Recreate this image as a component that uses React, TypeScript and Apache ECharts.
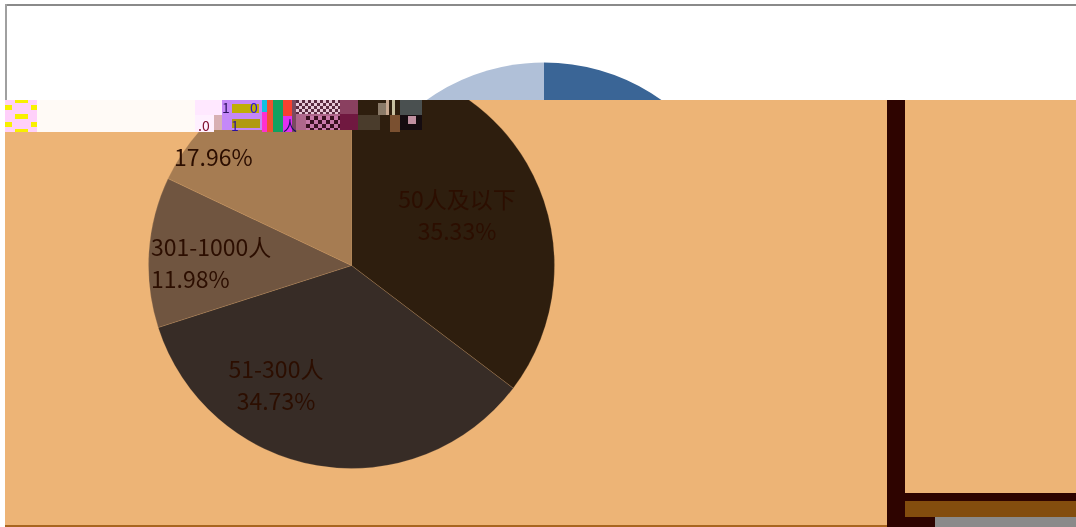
import React, { useEffect, useRef } from "react";
import * as echarts from "echarts";

const sizeGroups = ["50人及以下", "51-300人", "301-1000人", ""];
const sharePercent = [35.33, 34.73, 11.98, 17.96];
const mainColors = ["#2e1e0e", "#372c26", "#705540", "#a67c52"];
const upperColors = ["#3a6596", "#6f8fb8", "#8fa8c8", "#b0c0d8"];
const labelSpots = [
  { x: 457, y: 214, align: "center" },
  { x: 276, y: 384, align: "center" },
  { x: 151, y: 262, align: "left" },
  { x: 174, y: 156, align: "left" },
];
const ORANGE = "#edb476";
const DARK = "#2e0400";
const INK = "#2c0e00";

function box(x: number, y: number, w: number, h: number, fill: string, z = 20) {
  return { type: "rect", z, silent: true, shape: { x, y, width: w, height: h }, style: { fill } };
}
function frag(x: number, y: number, text: string, fill: string) {
  return {
    type: "text", z: 22, silent: true, x, y,
    style: { text, fill, font: '14px "Noto Sans CJK SC"', textVerticalAlign: "middle" },
  };
}

function checker(x0: number, x1: number, y0: number, y1: number, step: number, a: string, b: string) {
  const out: any[] = [];
  let r = 0;
  for (let y = y0; y < y1; y += step, r++) {
    let c = r % 2;
    for (let x = x0; x < x1; x += step, c++) {
      out.push(box(x, y, Math.min(step, x1 - x), Math.min(step, y1 - y), c % 2 ? a : b, 21));
    }
  }
  return out;
}

const glitch = [
  box(5, 100, 190, 32, "#fffaf6"),
  box(195, 100, 27, 15, "#ffe8ff"),
  box(195, 115, 19, 17, "#fff0ff"),
  box(214, 115, 14, 15, "#d8b0b4"),
  box(5, 100, 32, 32, "#ffd0fa"),
  box(15, 100, 13, 3, "#f8f000"),
  box(5, 105, 7, 5, "#f8f000"),
  box(31, 105, 6, 5, "#f8f000"),
  box(15, 114, 13, 5, "#f8f000"),
  box(5, 122, 7, 5, "#f8f000"),
  box(31, 122, 6, 5, "#f8f000"),
  box(15, 129, 13, 3, "#f8f000"),
  box(222, 100, 40, 30, "#c488f8"),
  box(232, 104, 27, 9, "#bfae06"),
  box(232, 119, 28, 9, "#b09a10"),
  box(262, 100, 5, 32, "#ff30d0"),
  box(262, 100, 5, 12, "#10c0e0"),
  box(267, 100, 6, 32, "#f05030"),
  box(273, 100, 10, 32, "#12a060"),
  box(283, 100, 9, 16, "#f84030"),
  box(283, 116, 9, 16, "#e030f0"),
  box(292, 100, 4, 32, "#7a4a60"),
  ...checker(296, 340, 100, 114, 3, "#e8c8d8", "#5a2a40"),
  box(296, 114, 44, 16, "#b0688c"),
  ...checker(306, 340, 116, 130, 4, "#c878a8", "#3a1020"),
  box(340, 100, 18, 14, "#8a4060"),
  box(340, 114, 18, 16, "#701840"),
  box(358, 100, 34, 32, "#2e1e0e"),
  box(358, 115, 22, 15, "#4a3c2c"),
  box(378, 103, 8, 12, "#8a7a68"),
  box(386, 100, 3, 15, "#c8a890"),
  box(392, 100, 3, 15, "#c8c0a0"),
  box(390, 115, 10, 17, "#7a5030"),
  box(400, 100, 22, 15, "#4a5050"),
  box(400, 115, 22, 15, "#150c10"),
  box(408, 116, 8, 8, "#c090a0"),
  frag(222, 107, "1", "#2a1060"),
  frag(250, 107, "0", "#2a10e0"),
  frag(198, 125, ".0", "#801030"),
  frag(231, 125, "1", "#2a10a0"),
  frag(283, 125, "人", "#101060"),
];

const frame = [
  box(887, 100, 18, 427, DARK),
  box(905, 493, 171, 8, DARK),
  box(905, 501, 171, 16, "#834d0e"),
  box(905, 517, 30, 10, DARK),
  box(935, 517, 141, 10, "#8a8a8a"),
  box(5, 525, 882, 2, "#a8651f"),
];

function pieSeries(cx: number, colors: string[], withLabels: boolean) {
  return {
    type: "pie",
    z: 5,
    silent: true,
    center: [cx, 265.5],
    radius: [0, 203],
    startAngle: 90,
    clockwise: true,
    percentPrecision: 2,
    avoidLabelOverlap: false,
    labelLine: { show: false },
    itemStyle: { borderColor: "rgba(237,180,118,0.2)", borderWidth: withLabels ? 1 : 0 },
    label: withLabels
      ? {
          show: true,
          position: "inside",
          color: INK,
          fontFamily: '"Noto Sans CJK SC"',
          fontSize: 23,
          lineHeight: 32,
          formatter: (p: any) => (p.name ? `${p.name}\n${p.value.toFixed(2)}%` : `${p.value.toFixed(2)}%`),
        }
      : { show: false },
    labelLayout: withLabels
      ? (p: any) => ({
          x: labelSpots[p.dataIndex].x,
          y: labelSpots[p.dataIndex].y,
          align: labelSpots[p.dataIndex].align,
          verticalAlign: "middle",
        })
      : undefined,
    data: sharePercent.map((v, i) => ({
      value: v,
      name: sizeGroups[i],
      itemStyle: { color: colors[i] },
    })),
  };
}

export default function App() {
  const topRef = useRef<HTMLDivElement>(null);
  const lowRef = useRef<HTMLDivElement>(null);
  useEffect(() => {
    document.body.style.margin = "0";
    const top = echarts.init(topRef.current!, undefined, { renderer: "svg" });
    const low = echarts.init(lowRef.current!, undefined, { renderer: "svg" });
    top.setOption({
      animation: false,
      backgroundColor: "#ffffff",
      graphic: { elements: [box(5, 4, 1071, 2, "#8a8a8a", 20), box(5, 4, 2, 100, "#a0a0a0", 20)] },
      series: [pieSeries(544, upperColors, false)],
    });
    low.setOption({
      animation: false,
      graphic: { elements: [box(5, 100, 1071, 427, ORANGE, 0), ...glitch, ...frame] },
      series: [pieSeries(351.5, mainColors, true)],
    });
    return () => {
      top.dispose();
      low.dispose();
    };
  }, []);
  const layer: React.CSSProperties = { position: "absolute", left: 0, top: 0, width: 1076, height: 527 };
  return (
    <div style={{ position: "relative", width: 1076, height: 527, overflow: "hidden", filter: "blur(0.4px)" }}>
      <div ref={topRef} style={layer} />
      <div ref={lowRef} style={{ ...layer, clipPath: "inset(100px 0 0 0)" }} />
    </div>
  );
}
